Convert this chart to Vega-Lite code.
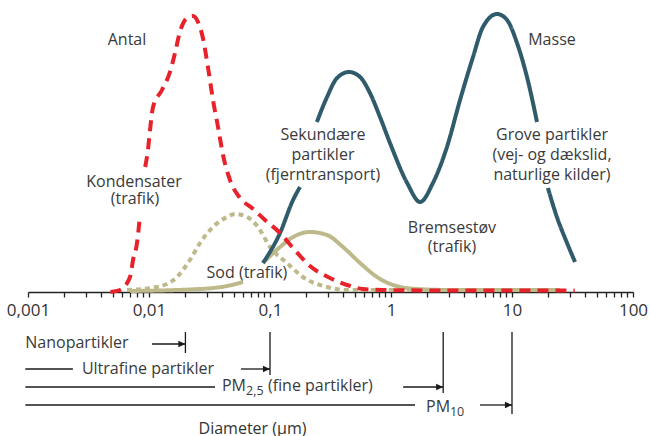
{
  "$schema": "https://vega.github.io/schema/vega-lite/v6.json",
  "width": 605,
  "height": 436,
  "autosize": {"type": "none"},
  "padding": {"left": 28, "right": 17, "top": 0, "bottom": 0},
  "background": "white",
  "config": {"view": {"stroke": null}, "font": "Open Sans"},
  "datasets": {
    "curves": [
      {"s": "Sod masse", "g": "o1", "d": 0.00697, "v": 1},
      {"s": "Sod masse", "g": "o1", "d": 0.0264, "v": 3},
      {"s": "Sod masse", "g": "o1", "d": 0.0441, "v": 6},
      {"s": "Sod masse", "g": "o1", "d": 0.0598, "v": 10},
      {"s": "Sod masse", "g": "o2", "d": 0.0875, "v": 29},
      {"s": "Sod masse", "g": "o2", "d": 0.121, "v": 45},
      {"s": "Sod masse", "g": "o2", "d": 0.155, "v": 55},
      {"s": "Sod masse", "g": "o2", "d": 0.214, "v": 60},
      {"s": "Sod masse", "g": "o2", "d": 0.296, "v": 57},
      {"s": "Sod masse", "g": "o2", "d": 0.401, "v": 45},
      {"s": "Sod masse", "g": "o2", "d": 0.555, "v": 29},
      {"s": "Sod masse", "g": "o2", "d": 0.766, "v": 15},
      {"s": "Sod masse", "g": "o2", "d": 1.04, "v": 7},
      {"s": "Sod masse", "g": "o2", "d": 1.64, "v": 3},
      {"s": "Sod masse", "g": "o2", "d": 3.08, "v": 2},
      {"s": "Sod masse", "g": "o2", "d": 24.9, "v": 2},
      {"s": "Sod antal", "g": "d1", "d": 0.00658, "v": 2},
      {"s": "Sod antal", "g": "d1", "d": 0.0116, "v": 5},
      {"s": "Sod antal", "g": "d1", "d": 0.017, "v": 15},
      {"s": "Sod antal", "g": "d1", "d": 0.0218, "v": 32},
      {"s": "Sod antal", "g": "d1", "d": 0.0264, "v": 49},
      {"s": "Sod antal", "g": "d1", "d": 0.0338, "v": 65},
      {"s": "Sod antal", "g": "d1", "d": 0.0441, "v": 75},
      {"s": "Sod antal", "g": "d1", "d": 0.0514, "v": 78},
      {"s": "Sod antal", "g": "d1", "d": 0.0645, "v": 75},
      {"s": "Sod antal", "g": "d1", "d": 0.0796, "v": 65},
      {"s": "Sod antal", "g": "d1", "d": 0.1, "v": 45},
      {"s": "Sod antal", "g": "d1", "d": 0.138, "v": 29},
      {"s": "Sod antal", "g": "d1", "d": 0.187, "v": 15},
      {"s": "Sod antal", "g": "d1", "d": 0.296, "v": 5},
      {"s": "Sod antal", "g": "d1", "d": 0.458, "v": 2},
      {"s": "Sod antal", "g": "d1", "d": 3.08, "v": 2},
      {"s": "Sod antal", "g": "d1", "d": 24.9, "v": 2},
      {"s": "Masse", "g": "m1", "d": 0.0875, "v": 29},
      {"s": "Masse", "g": "m1", "d": 0.121, "v": 59},
      {"s": "Masse", "g": "m1", "d": 0.155, "v": 92},
      {"s": "Masse", "g": "m1", "d": 0.177, "v": 105},
      {"s": "Masse", "g": "m2", "d": 0.244, "v": 170},
      {"s": "Masse", "g": "m2", "d": 0.296, "v": 195},
      {"s": "Masse", "g": "m2", "d": 0.358, "v": 214},
      {"s": "Masse", "g": "m2", "d": 0.45, "v": 220},
      {"s": "Masse", "g": "m2", "d": 0.555, "v": 215},
      {"s": "Masse", "g": "m2", "d": 0.67, "v": 199},
      {"s": "Masse", "g": "m2", "d": 0.811, "v": 175},
      {"s": "Masse", "g": "m2", "d": 0.981, "v": 149},
      {"s": "Masse", "g": "m2", "d": 1.36, "v": 109},
      {"s": "Masse", "g": "m2", "d": 1.74, "v": 90},
      {"s": "Masse", "g": "m2", "d": 2.22, "v": 109},
      {"s": "Masse", "g": "m2", "d": 2.9, "v": 145},
      {"s": "Masse", "g": "m2", "d": 3.72, "v": 192},
      {"s": "Masse", "g": "m2", "d": 4.76, "v": 235},
      {"s": "Masse", "g": "m2", "d": 5.75, "v": 265},
      {"s": "Masse", "g": "m2", "d": 7.52, "v": 278},
      {"s": "Masse", "g": "m2", "d": 9.1, "v": 272},
      {"s": "Masse", "g": "m2", "d": 11, "v": 249},
      {"s": "Masse", "g": "m2", "d": 13.3, "v": 215},
      {"s": "Masse", "g": "m2", "d": 16.1, "v": 170},
      {"s": "Masse", "g": "m3", "d": 19.8, "v": 104},
      {"s": "Masse", "g": "m3", "d": 23.5, "v": 75},
      {"s": "Masse", "g": "m3", "d": 28.5, "v": 49},
      {"s": "Masse", "g": "m3", "d": 33.2, "v": 30},
      {"s": "Antal", "g": "a1", "d": 0.0048, "v": 0},
      {"s": "Antal", "g": "a1", "d": 0.00576, "v": 2},
      {"s": "Antal", "g": "a1", "d": 0.00697, "v": 15},
      {"s": "Antal", "g": "a1", "d": 0.00738, "v": 32},
      {"s": "Antal", "g": "a1", "d": 0.00796, "v": 49},
      {"s": "Antal", "g": "a1", "d": 0.00843, "v": 77},
      {"s": "Antal", "g": "a2", "d": 0.0093, "v": 125},
      {"s": "Antal", "g": "a2", "d": 0.0098, "v": 142},
      {"s": "Antal", "g": "a2", "d": 0.0102, "v": 162},
      {"s": "Antal", "g": "a2", "d": 0.0108, "v": 185},
      {"s": "Antal", "g": "a2", "d": 0.0128, "v": 202},
      {"s": "Antal", "g": "a2", "d": 0.0149, "v": 220},
      {"s": "Antal", "g": "a2", "d": 0.0164, "v": 239},
      {"s": "Antal", "g": "a2", "d": 0.018, "v": 260},
      {"s": "Antal", "g": "a2", "d": 0.0206, "v": 274},
      {"s": "Antal", "g": "a2", "d": 0.0231, "v": 276},
      {"s": "Antal", "g": "a2", "d": 0.0254, "v": 270},
      {"s": "Antal", "g": "a2", "d": 0.0279, "v": 254},
      {"s": "Antal", "g": "a2", "d": 0.0307, "v": 225},
      {"s": "Antal", "g": "a2", "d": 0.0338, "v": 192},
      {"s": "Antal", "g": "a2", "d": 0.0372, "v": 165},
      {"s": "Antal", "g": "a2", "d": 0.0409, "v": 137},
      {"s": "Antal", "g": "a2", "d": 0.0467, "v": 112},
      {"s": "Antal", "g": "a2", "d": 0.0565, "v": 94},
      {"s": "Antal", "g": "a2", "d": 0.071, "v": 84},
      {"s": "Antal", "g": "a2", "d": 0.091, "v": 72},
      {"s": "Antal", "g": "a2", "d": 0.121, "v": 59},
      {"s": "Antal", "g": "a2", "d": 0.155, "v": 44},
      {"s": "Antal", "g": "a2", "d": 0.214, "v": 26},
      {"s": "Antal", "g": "a2", "d": 0.313, "v": 14},
      {"s": "Antal", "g": "a2", "d": 0.433, "v": 7},
      {"s": "Antal", "g": "a2", "d": 0.587, "v": 3},
      {"s": "Antal", "g": "a2", "d": 0.859, "v": 2},
      {"s": "Antal", "g": "a2", "d": 3.08, "v": 1.5},
      {"s": "Antal", "g": "a2", "d": 33, "v": 1.5}
    ],
    "labels": [
      {"t": "Antal", "d": 0.00658, "v": 247},
      {"t": "Masse", "d": 21.4, "v": 247},
      {"t": "Kondensater", "d": 0.00752, "v": 105},
      {"t": "(trafik)", "d": 0.00765, "v": 88},
      {"t": "Sekundære", "d": 0.274, "v": 152},
      {"t": "partikler", "d": 0.274, "v": 132},
      {"t": "(fjerntransport)", "d": 0.274, "v": 112},
      {"t": "Grove partikler", "d": 21.4, "v": 152},
      {"t": "(vej- og dækslid,", "d": 21.4, "v": 132},
      {"t": "naturlige kilder)", "d": 21.4, "v": 112},
      {"t": "Bremsestøv", "d": 3.19, "v": 59},
      {"t": "(trafik)", "d": 3.19, "v": 40},
      {"t": "Sod (trafik)", "d": 0.0645, "v": 14}
    ],
    "notes": [
      {"t": "Nanopartikler", "d": 0.00095, "v": -56},
      {"t": "Ultrafine partikler", "d": 0.00279, "v": -82},
      {"t": "PM", "d": 0.0401, "v": -99},
      {"t": "(fine partikler)", "d": 0.0962, "v": -99},
      {"t": "PM", "d": 1.95, "v": -120}
    ],
    "subs": [
      {"t": "2,5", "d": 0.0634, "v": -103},
      {"t": "10", "d": 3.07, "v": -124}
    ],
    "rules": [
      {"d": 0.02, "d2": 0.02, "v": -40, "v2": -61},
      {"d": 0.0106, "d2": 0.02, "v": -52, "v2": -52},
      {"d": 0.1, "d2": 0.1, "v": -40, "v2": -83},
      {"d": 0.00095, "d2": 0.00235, "v": -77, "v2": -77},
      {"d": 0.0576, "d2": 0.1, "v": -77, "v2": -77},
      {"d": 2.7, "d2": 2.7, "v": -40, "v2": -101},
      {"d": 0.00095, "d2": 0.0351, "v": -95, "v2": -95},
      {"d": 1.26, "d2": 2.7, "v": -95, "v2": -95},
      {"d": 10, "d2": 10, "v": -40, "v2": -122},
      {"d": 0.00095, "d2": 1.58, "v": -113, "v2": -113},
      {"d": 5.44, "d2": 10, "v": -113, "v2": -113}
    ],
    "arrows": [
      {"d": 0.02, "v": -52},
      {"d": 0.1, "v": -77},
      {"d": 2.7, "v": -95},
      {"d": 10, "v": -113}
    ]
  },
  "encoding": {
    "x": {
      "field": "d",
      "type": "quantitative",
      "scale": {"type": "log", "domain": [0.001, 100], "nice": false},
      "axis": {
        "orient": "bottom",
        "offset": -144,
        "values": [0.001, 0.002, 0.003, 0.004, 0.005, 0.006, 0.007, 0.008, 0.009, 0.01, 0.02, 0.03, 0.04, 0.05, 0.06, 0.07, 0.08, 0.09, 0.1, 0.2, 0.3, 0.4, 0.5, 0.6, 0.7, 0.8, 0.9, 1, 2, 3, 4, 5, 6, 7, 8, 9, 10, 20, 30, 40, 50, 60, 70, 80, 90, 100],
        "labelExpr": "abs(log(datum.value)/LN10 - round(log(datum.value)/LN10)) < 0.001 ? replace(format(datum.value, '~g'), '.', ',') : ''",
        "labelOverlap": false,
        "labelFlush": false,
        "labelFontSize": 17,
        "labelFont": "Open Sans",
        "labelColor": "#333333",
        "labelPadding": 5,
        "domainColor": "#222222",
        "domainWidth": 1.6,
        "tickColor": "#222222",
        "tickWidth": 1.3,
        "tickSize": 5,
        "grid": false,
        "title": "Diameter (µm)",
        "titleFont": "Open Sans",
        "titleFontSize": 16,
        "titleFontWeight": "normal",
        "titleColor": "#333333",
        "titleAnchor": null,
        "titleAlign": "center",
        "titleX": 224,
        "titleY": 141,
        "titleBaseline": "alphabetic"
      }
    },
    "y": {
      "field": "v",
      "type": "quantitative",
      "scale": {"domain": [-144, 292], "nice": false, "zero": false},
      "axis": null
    }
  },
  "layer": [
    {
      "data": {"name": "curves"},
      "mark": {"type": "line", "strokeWidth": 4, "interpolate": "monotone"},
      "encoding": {
        "color": {
          "field": "s",
          "type": "nominal",
          "scale": {"domain": ["Antal", "Masse", "Sod antal", "Sod masse"], "range": ["#e8222b", "#2f5b6b", "#bdb98a", "#bdb98a"]},
          "legend": null
        },
        "strokeDash": {
          "field": "s",
          "type": "nominal",
          "scale": {"domain": ["Antal", "Masse", "Sod antal", "Sod masse"], "range": [[11, 7], [1, 0], [5, 4], [1, 0]]},
          "legend": null
        },
        "detail": {"field": "g"}
      }
    },
    {
      "data": {"name": "rules"},
      "mark": {"type": "rule", "color": "#1a1a1a", "strokeWidth": 1.3},
      "encoding": {
        "x2": {"field": "d2"},
        "y2": {"field": "v2"}
      }
    },
    {
      "data": {"name": "arrows"},
      "mark": {"type": "point", "shape": "M-1,-0.45L0,0L-1,0.45Z", "filled": true, "size": 200, "color": "#1a1a1a", "opacity": 1}
    },
    {
      "data": {"name": "labels"},
      "mark": {"type": "text", "font": "Open Sans", "fontSize": 16, "color": "#3a3a3a", "align": "center", "baseline": "alphabetic"},
      "encoding": {"text": {"field": "t"}}
    },
    {
      "data": {"name": "notes"},
      "mark": {"type": "text", "font": "Open Sans", "fontSize": 16, "color": "#3a3a3a", "align": "left", "baseline": "alphabetic"},
      "encoding": {"text": {"field": "t"}}
    },
    {
      "data": {"name": "subs"},
      "mark": {"type": "text", "font": "Open Sans", "fontSize": 12.5, "color": "#3a3a3a", "align": "left", "baseline": "alphabetic"},
      "encoding": {"text": {"field": "t"}}
    }
  ]
}
